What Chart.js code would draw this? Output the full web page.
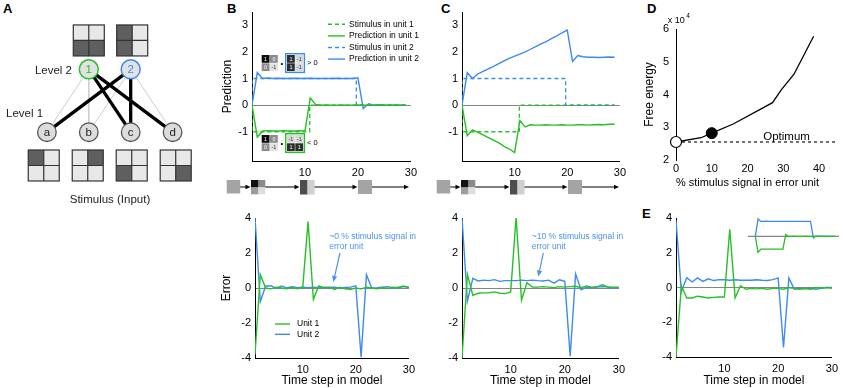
<!DOCTYPE html>
<html><head><meta charset="utf-8"><title>Predictive coding figure</title>
<script src="https://cdn.jsdelivr.net/npm/chart.js@4.4.1/dist/chart.umd.min.js"></script>
<style>
html,body{margin:0;padding:0;background:#fff}
body{position:relative;width:843px;height:388px;overflow:hidden;font-family:'Liberation Sans',Arial,Helvetica,sans-serif}
canvas{position:absolute}
.plabel{position:absolute;font-weight:bold;font-size:13px;line-height:13px;color:#000}
</style></head><body>
<div class="plabel" style="left:3px;top:2px">A</div>
<div class="plabel" style="left:227px;top:2px">B</div>
<div class="plabel" style="left:441px;top:2px">C</div>
<div class="plabel" style="left:647px;top:2px">D</div>
<div class="plabel" style="left:642px;top:207px">E</div>
<script>
// ---------------- DATA ----------------
// Panel A: network
const level1Nodes = ['a','b','c','d'];
const level1X = [1,2,3,4];
const level2Nodes = ['1','2'];
const level2X = [2,3];
const strongLinks = [['1','c'],['1','d'],['2','a'],['2','c']];
const weakLinks = [['1','a'],['1','b'],['2','b'],['2','d']];
const level2Patterns = [[0,0,1,1],[1,0,1,0]];          // TL,TR,BL,BR (1 = dark)
const inputPatterns = [[1,0,0,0],[0,1,0,0],[0,0,1,0],[0,0,0,1]];

// Panels B/C top: predictions
const topSteps = [0,1,2,3,4,5,6,7,8,9,10,11,12,13,14,15,16,17,18,19,20,21,22,23,24,25,26,27,28,29];
const predGreenB = [0,-1.2,-0.97,-0.96,-0.97,-0.97,-0.96,-0.97,-0.97,-0.96,-0.97,0.27,0.03,0.0,0.01,0.0,0.0,0.01,0.0,0.0,0.01,0.0,0.0,-0.01,0.0,0.0,0.0,0.01,0.0,0.0];
const predBlueB = [0,1.22,1.0,1.02,1.0,1.01,1.0,1.0,1.01,1.0,1.0,1.01,1.0,1.0,1.0,1.0,1.01,1.0,1.0,1.0,1.03,-0.13,0.05,0.0,0.02,0.0,0.0,-0.01,0.0,0.0];
const predGreenC = [0,-1.15,-0.93,-1.02,-1.12,-1.22,-1.32,-1.42,-1.55,-1.65,-1.78,-0.58,-0.82,-0.74,-0.75,-0.75,-0.74,-0.75,-0.75,-0.74,-0.75,-0.75,-0.74,-0.74,-0.75,-0.74,-0.73,-0.74,-0.72,-0.72];
const predBlueC = [0,1.22,1.0,1.17,1.27,1.36,1.46,1.56,1.66,1.76,1.84,1.92,2.0,2.1,2.2,2.3,2.39,2.5,2.6,2.72,2.82,1.64,1.86,1.82,1.8,1.8,1.79,1.8,1.81,1.8];
const stimGreenTimes = [0,0,10.9,10.9,29];
const stimGreenValues = [0,-1,-1,0,0];
const stimBlueTimes = [0,0,19.7,19.7,29];
const stimBlueValues = [0,1,1,0,0];
const predTicksX = [10,20,30];
const predTicksY = [-1,0,1,2,3];

// Panels B/C/E bottom: errors
const errSteps = [1,2,3,4,5,6,7,8,9,10,11,12,13,14,15,16,17,18,19,20,21,22,23,24,25,26,27,28,29,30];
const errGreenB = [-3.8,0.76,0.0,-0.05,0.05,0.0,-0.05,0.05,-0.05,0.05,3.8,-0.65,0.12,0.0,0.05,-0.08,0.05,-0.05,-0.08,0.0,-0.05,0.05,0.0,-0.05,0.03,-0.02,0.05,0.0,0.1,0.05];
const errBlueB = [4.0,-0.77,0.1,0.13,-0.02,0.12,0.0,0.08,0.02,0.05,0.02,0.04,0.02,0.05,0.03,0.05,0.0,0.03,0.05,0.12,-3.95,0.76,0.0,0.02,0.05,0.08,0.0,0.05,0.1,0.02];
const errGreenC = [-4.0,0.78,-0.42,-0.3,-0.28,-0.27,-0.22,-0.3,-0.32,-0.23,4.05,-0.7,0.3,0.05,0.05,0.08,0.05,0.02,0.08,0.05,0.08,0.1,0.02,0.12,0.05,0.08,0.18,0.05,0.05,0.05];
const errBlueC = [4.0,-0.75,0.55,0.4,0.45,0.42,0.48,0.38,0.42,0.42,0.42,0.45,0.42,0.45,0.42,0.4,0.45,0.28,0.47,0.38,-3.9,0.8,-0.1,0.05,0.0,0.05,0.08,0.05,0.0,0.02];
const errGreenE = [-4.0,0.1,-0.6,-0.6,-0.5,-0.55,-0.6,-0.57,-0.55,-0.55,3.35,-0.6,0.1,-0.1,-0.05,-0.08,-0.05,-0.1,-0.05,-0.05,-0.1,0.0,-0.05,-0.1,-0.05,-0.1,0.0,-0.05,0.0,-0.05];
const errBlueE = [3.85,-0.25,0.57,0.32,0.55,0.35,0.5,0.4,0.45,0.45,0.42,0.45,0.42,0.42,0.42,0.45,0.42,0.4,0.45,0.55,-3.45,0.55,-0.1,-0.05,-0.08,-0.05,-0.1,-0.05,0.0,0.0];
const errTicksX = [10,20,30];
const errTicksY = [-4,-2,0,2,4];

// Panel E inset: predictions
const insetGreenE = [0,-1.08,-0.86,-0.86,-0.85,-0.86,-0.86,-0.86,-0.85,-0.86,-0.86,0.12,0.0,0.0,0.01,0.0,0.0,0.0,0.01,0.0,0.0,0.0,0.0,0.01,0.0,0.0,0.0,0.0,0.0,0.0];
const insetBlueE = [0,1.18,1.0,1.0,1.02,1.0,1.0,1.01,1.0,1.0,1.0,1.0,1.01,1.0,1.0,1.0,1.0,1.01,1.0,1.0,1.0,-0.1,0.02,0.0,0.0,0.01,0.0,0.0,0.0,0.0];

// Panel D: free energy (x 10^4)
const feSignal = [0,7,10,16,27,29.5,33,38.5];
const feEnergy = [2.55,2.68,2.82,3.1,3.75,4.15,4.62,5.78];
const feOptimum = 2.55;
const feCurrentSignal = [10];
const feCurrentEnergy = [2.82];
const feTicksX = [0,10,20,30,40];
const feTicksY = [2,3,4,5,6];

// Panel B inset matrices
const stimMatrix = [1,0,0,-1];
const weightUnit2 = [1,-1,1,-1];
const weightUnit1 = [-1,-1,1,1];

// ---------------- STYLE / HELPERS ----------------
const FONT = "'Liberation Sans', Arial, Helvetica, sans-serif";
Chart.defaults.font.family = FONT;
Chart.defaults.color = '#000';
const GREEN = '#25c125', BLUE = '#3d8af2', ANNO = '#4b92f2', ZERO = '#858585';

function pts(xs, ys){ return xs.map((x,i)=>({x:x, y:ys[i]})); }
function lineDS(label, xs, ys, color, extra){
  return Object.assign({label:label, data:pts(xs,ys), borderColor:color, backgroundColor:color,
    borderWidth:1.4, pointRadius:0, fill:false, tension:0}, extra||{});
}
function makeCanvas(box){
  const c = document.createElement('canvas');
  c.width = box.width; c.height = box.height;
  c.style.left = box.left+'px'; c.style.top = box.top+'px';
  c.style.width = box.width+'px'; c.style.height = box.height+'px';
  document.body.appendChild(c);
  return c;
}
function xAxis(min, max, ticks, title, o){
  o = o || {};
  return {type:'linear', min:min, max:max,
    afterBuildTicks: s => { s.ticks = ticks.map(v=>({value:v})); },
    grid:{display:false, drawTicks:false},
    border:{display:o.noBorder ? false : true, color:'#000', width:1},
    ticks:{padding:o.tickPad!=null?o.tickPad:5, font:{size:11}, color:'#000', maxRotation:0, autoSkip:false},
    title: title ? {display:true, text:title, font:{size:o.titleSize||12}, color:'#000', padding:{top:0,bottom:o.titlePad||0}} : {display:false}
  };
}
function yAxis(min, max, ticks, title, o){
  o = o || {};
  return {type:'linear', min:min, max:max,
    afterBuildTicks: s => { s.ticks = ticks.map(v=>({value:v})); },
    grid: o.zero ? {display:true, drawTicks:false, lineWidth:1,
        color: c => (c.tick && c.tick.value === 0) ? ZERO : 'rgba(0,0,0,0)'} : {display:false, drawTicks:false},
    border:{display:true, color:'#000', width:1},
    ticks:{padding:o.tickPad!=null?o.tickPad:4, font:{size:11}, color:'#000', autoSkip:false},
    title: title ? {display:true, text:title, font:{size:12}, color:'#000', padding:{top:o.titlePad||0,bottom:0}} : {display:false}
  };
}
function plotChart(area, pad, scales, datasets, plugins){
  const box = {left:area.l-pad.l, top:area.t-pad.t, width:(area.r-area.l)+pad.l+pad.r, height:(area.b-area.t)+pad.t+pad.b};
  const c = makeCanvas(box);
  scales.x.afterFit = s => { s.height = pad.b; };
  scales.y.afterFit = s => { s.width = pad.l; };
  return new Chart(c, {type:'line', data:{datasets:datasets},
    options:{responsive:false, animation:false, devicePixelRatio:1, events:[],
      layout:{padding:{left:0, top:pad.t, right:pad.r, bottom:0}},
      scales:scales, plugins:{legend:{display:false}, tooltip:{enabled:false}}},
    plugins:plugins||[]});
}
function arrowLine(ctx, x0,y0,x1,y1,color,w,len,half){
  const a = Math.atan2(y1-y0, x1-x0);
  ctx.strokeStyle = color; ctx.lineWidth = w; ctx.setLineDash([]);
  ctx.beginPath(); ctx.moveTo(x0,y0); ctx.lineTo(x1-len*0.8*Math.cos(a), y1-len*0.8*Math.sin(a)); ctx.stroke();
  ctx.fillStyle = color; ctx.beginPath(); ctx.moveTo(x1,y1);
  ctx.lineTo(x1-len*Math.cos(a)+half*Math.sin(a), y1-len*Math.sin(a)-half*Math.cos(a));
  ctx.lineTo(x1-len*Math.cos(a)-half*Math.sin(a), y1-len*Math.sin(a)+half*Math.cos(a));
  ctx.closePath(); ctx.fill();
}
function txt(ctx, s, x, y, size, color, align, extra){
  ctx.font = (extra||'') + size + 'px ' + FONT;
  ctx.fillStyle = color; ctx.textAlign = align||'left'; ctx.textBaseline = 'middle';
  ctx.fillText(s, x, y);
}
function grid2(ctx, x, y, s, cols, border){
  const h = s/2;
  if (cols.every(c => c === cols[0])) { ctx.fillStyle = cols[0]; ctx.fillRect(x, y, s, s); }
  else {
    for (let i=0;i<4;i++){ ctx.fillStyle = cols[i];
      const cx = x+(i%2)*h, cy = y+Math.floor(i/2)*h;
      ctx.fillRect(cx, cy, h+((i%2)===0?0.6:0), h+(i<2?0.6:0)); }
  }
  if (border){ ctx.strokeStyle = border; ctx.lineWidth = 1.2; ctx.strokeRect(x, y, s, s);
    ctx.beginPath(); ctx.moveTo(x+h,y); ctx.lineTo(x+h,y+s); ctx.moveTo(x,y+h); ctx.lineTo(x+s,y+h); ctx.stroke(); }
}
// stimulus sequence strip under the prediction plots (canvas-relative pixels)
function drawStrip(ctx){
  const y0 = 180, g = '#a4a4a4';
  grid2(ctx, 11.7, y0, 13.5, [g,g,g,g]);
  grid2(ctx, 36, y0, 14.3, ['#111','#8a8a8a','#9c9c9c','#dedede']);
  grid2(ctx, 85, y0, 14.5, ['#4d4d4d','#cfcfcf','#4d4d4d','#cfcfcf']);
  grid2(ctx, 143, y0, 14, [g,g,g,g]);
  const ym = y0 + 7;
  [[25.2,35.5],[50.3,84.5],[99.5,142.5],[157,194]].forEach(a => arrowLine(ctx, a[0], ym, a[1], ym, '#000', 1, 5, 2.3));
}
function matrixCell(v){
  if (v === 1) return ['#2e2e2e','#fff'];
  if (v === 0) return ['#8c8c8c','#fff'];
  return ['#d9d9d9','#333'];
}
function drawMatrix(ctx, x, y, vals, border, firstBlack){
  const c = 8.3;
  for (let i=0;i<4;i++){
    let cc = matrixCell(vals[i]);
    if (firstBlack && i===0) cc = ['#0c0c0c','#fff'];
    if (firstBlack && i===3) cc = ['#e2e2e2','#333'];
    const cx = x + (i%2)*c, cy = y + Math.floor(i/2)*c;
    ctx.fillStyle = cc[0]; ctx.fillRect(cx, cy, c-0.5, c-0.5);
    txt(ctx, String(vals[i]), cx+c/2-0.2, cy+c/2, 5.5, cc[1], 'center');
  }
  if (border){ ctx.strokeStyle = border; ctx.lineWidth = 1.4; ctx.strokeRect(x-1.3, y-1.3, 2*c+2.1, 2*c+2.1); }
}

// ---------------- PANEL A ----------------
(function(){
  const c = makeCanvas({left:0, top:0, width:215, height:215});
  const nodeX = {}; const nodeY = {};
  level1Nodes.forEach((n,i)=>{ nodeX[n]=level1X[i]; nodeY[n]=1; });
  level2Nodes.forEach((n,i)=>{ nodeX[n]=level2X[i]; nodeY[n]=2; });
  const ds = [];
  weakLinks.forEach(l => ds.push({data:[{x:nodeX[l[0]],y:nodeY[l[0]]},{x:nodeX[l[1]],y:nodeY[l[1]]}], showLine:true, borderColor:'#cdcdcd', borderWidth:1, pointRadius:0, order:3}));
  strongLinks.forEach(l => ds.push({data:[{x:nodeX[l[0]],y:nodeY[l[0]]},{x:nodeX[l[1]],y:nodeY[l[1]]}], showLine:true, borderColor:'#000', borderWidth:3.3, pointRadius:0, order:2}));
  ds.push({data:level1X.map(x=>({x:x,y:1})), pointRadius:9.3, backgroundColor:'#dcdcdc', borderColor:'#555', borderWidth:1.3, order:1});
  ds.push({data:[{x:level2X[0],y:2}], pointRadius:9.5, backgroundColor:'#e2e2e2', borderColor:GREEN, borderWidth:1.5, order:1});
  ds.push({data:[{x:level2X[1],y:2}], pointRadius:9.5, backgroundColor:'#e2e2e2', borderColor:BLUE, borderWidth:1.5, order:1});
  const deco = {id:'aDeco', afterDraw(ch){
    const ctx = ch.ctx, xs = ch.scales.x, ys = ch.scales.y; ctx.save();
    level1Nodes.forEach((n,i)=> txt(ctx, n, xs.getPixelForValue(level1X[i]), ys.getPixelForValue(1)+0.5, 11.5, '#222', 'center'));
    txt(ctx, level2Nodes[0], xs.getPixelForValue(level2X[0]), ys.getPixelForValue(2)+0.5, 11.5, GREEN, 'center');
    txt(ctx, level2Nodes[1], xs.getPixelForValue(level2X[1]), ys.getPixelForValue(2)+0.5, 11.5, BLUE, 'center');
    const L = '#e8e8e8', D = '#5f5f5f', S = 31;
    level2Patterns.forEach((p,i)=>{ const cx = xs.getPixelForValue(level2X[i]) + (i===1?1.5:0); const cy = ys.getPixelForValue(2.46);
      grid2(ctx, cx-S/2, cy-S/2, S, p.map(v=>v?D:L), '#333'); });
    inputPatterns.forEach((p,i)=>{ const px = xs.getPixelForValue(level1X[i]); const cx = px + (px-110)*0.05; const cy = ys.getPixelForValue(0.47);
      grid2(ctx, cx-S/2, cy-S/2, S, p.map(v=>v?D:L), '#333'); });
    txt(ctx, 'Level 2', 72, 71, 11.5, '#222', 'right');
    txt(ctx, 'Level 1', 6, 114, 11.5, '#222', 'left');
    txt(ctx, 'Stimulus (Input)', 110, 200, 11.5, '#222', 'center');
    ctx.restore();
  }};
  new Chart(c, {type:'scatter', data:{datasets:ds},
    options:{responsive:false, animation:false, devicePixelRatio:1, events:[], layout:{padding:0},
      scales:{x:{type:'linear', display:false, min:0.1429, max:4.75}, y:{type:'linear', display:false, min:-0.1429, max:2.9286}},
      plugins:{legend:{display:false}, tooltip:{enabled:false}}},
    plugins:[deco]});
})();

// ---------------- PANEL B / C TOP ----------------
function predDatasets(green, blue){
  return [
    lineDS('Stimulus in unit 1', stimGreenTimes, stimGreenValues, GREEN, {borderDash:[4,3], borderWidth:1.3}),
    lineDS('Prediction in unit 1', topSteps, green, GREEN),
    lineDS('Stimulus in unit 2', stimBlueTimes, stimBlueValues, BLUE, {borderDash:[4,3], borderWidth:1.3}),
    lineDS('Prediction in unit 2', topSteps, blue, BLUE)
  ];
}
const bTopDeco = {id:'bTopDeco', afterDraw(ch){
  const ctx = ch.ctx; ctx.save();
  ch.data.datasets.forEach((d,i)=>{
    const y = 24.3 + i*11.6;
    ctx.strokeStyle = d.borderColor; ctx.lineWidth = 1.4; ctx.setLineDash(d.borderDash||[]);
    ctx.beginPath(); ctx.moveTo(113, y); ctx.lineTo(130, y); ctx.stroke(); ctx.setLineDash([]);
    txt(ctx, d.label, 134, y, 8.5, '#000', 'left');
  });
  drawMatrix(ctx, 46.7, 55, stimMatrix, null, true);
  txt(ctx, '\u2022', 67, 63.5, 8, '#000', 'center');
  drawMatrix(ctx, 72, 55, weightUnit2, BLUE, false);
  txt(ctx, '> 0', 92, 63.3, 7.5, '#000', 'left');
  drawMatrix(ctx, 46.7, 135, stimMatrix, null, true);
  txt(ctx, '\u2022', 67, 143.5, 8, '#000', 'center');
  drawMatrix(ctx, 72, 135, weightUnit1, GREEN, false);
  txt(ctx, '< 0', 92, 143.3, 7.5, '#000', 'left');
  drawStrip(ctx);
  ctx.restore();
}};
const stripDeco = {id:'stripDeco', afterDraw(ch){ const ctx = ch.ctx; ctx.save(); drawStrip(ctx); ctx.restore(); }};

plotChart({l:252,t:12,r:411,b:161}, {l:37,t:12,r:11,b:39},
  {x:xAxis(0,30,predTicksX,null,{tickPad:5}), y:yAxis(-2.1,3.5,predTicksY,'Prediction',{zero:true,titlePad:5.3})},
  predDatasets(predGreenB, predBlueB), [bTopDeco]);
plotChart({l:462,t:12,r:620,b:161}, {l:37,t:12,r:11,b:39},
  {x:xAxis(0,30,predTicksX,null,{tickPad:5}), y:yAxis(-2.1,3.5,predTicksY,null,{zero:true})},
  predDatasets(predGreenC, predBlueC), [stripDeco]);

// ---------------- ERROR PANELS ----------------
function errDatasets(green, blue){
  return [lineDS('Unit 1', errSteps, green, GREEN), lineDS('Unit 2', errSteps, blue, BLUE)];
}
const bErrDeco = {id:'bErrDeco', afterDraw(ch){
  const ctx = ch.ctx; ctx.save();
  ch.data.datasets.forEach((d,i)=>{
    const y = 119 + i*10.3;
    ctx.strokeStyle = d.borderColor; ctx.lineWidth = 1.4; ctx.beginPath(); ctx.moveTo(60,y); ctx.lineTo(75,y); ctx.stroke();
    txt(ctx, d.label, 82, y, 8.5, '#000', 'left');
  });
  txt(ctx, '~0 % stimulus signal in', 114.3, 31.7, 8.5, ANNO, 'left');
  txt(ctx, 'error unit', 114.3, 41.5, 8.5, ANNO, 'left');
  arrowLine(ctx, 125, 48, 118.3, 77, ANNO, 1.2, 6, 2.6);
  ctx.restore();
}};
const cErrDeco = {id:'cErrDeco', afterDraw(ch){
  const ctx = ch.ctx; ctx.save();
  txt(ctx, '~10 % stimulus signal in', 101.7, 31.7, 8.5, ANNO, 'left');
  txt(ctx, 'error unit', 101.7, 41.5, 8.5, ANNO, 'left');
  arrowLine(ctx, 113.3, 48, 108.3, 71.5, ANNO, 1.2, 6, 2.6);
  ctx.restore();
}};
plotChart({l:255,t:218,r:413,b:358}, {l:40,t:13,r:7,b:30},
  {x:xAxis(1,30,errTicksX,'Time step in model'), y:yAxis(-4,4,errTicksY,'Error',{zero:true,titlePad:4.8})},
  errDatasets(errGreenB, errBlueB), [bErrDeco]);
plotChart({l:462,t:218,r:622,b:358}, {l:32,t:13,r:8,b:30},
  {x:xAxis(1,30,errTicksX,'Time step in model'), y:yAxis(-4,4,errTicksY,null,{zero:true})},
  errDatasets(errGreenC, errBlueC), [cErrDeco]);
plotChart({l:676,t:218,r:836,b:357}, {l:21,t:13,r:7,b:31},
  {x:xAxis(1,30,errTicksX,'Time step in model'), y:yAxis(-4,4,errTicksY,null,{zero:true})},
  errDatasets(errGreenE, errBlueE), []);

// ---------------- PANEL E INSET ----------------
(function(){
  const c = makeCanvas({left:748, top:217, width:91, height:38});
  const zeroLine = {id:'insetZero', beforeDatasetsDraw(ch){
    const ctx = ch.ctx, y = ch.scales.y.getPixelForValue(0); ctx.save();
    ctx.strokeStyle = ZERO; ctx.lineWidth = 1.2; ctx.beginPath(); ctx.moveTo(ch.chartArea.left, y); ctx.lineTo(ch.chartArea.right, y); ctx.stroke(); ctx.restore();
  }};
  new Chart(c, {type:'line', data:{datasets:[
      lineDS('Prediction in unit 1', topSteps, insetGreenE, GREEN, {borderWidth:1.3}),
      lineDS('Prediction in unit 2', topSteps, insetBlueE, BLUE, {borderWidth:1.3})]},
    options:{responsive:false, animation:false, devicePixelRatio:1, events:[], layout:{padding:0},
      scales:{x:{type:'linear', display:false, min:-2.65, max:30.3}, y:{type:'linear', display:false, min:-1.25, max:1.3}},
      plugins:{legend:{display:false}, tooltip:{enabled:false}}},
    plugins:[zeroLine]});
})();

// ---------------- PANEL D ----------------
const dDeco = {id:'dDeco', afterDraw(ch){
  const ctx = ch.ctx, xs = ch.scales.x, ys = ch.scales.y; ctx.save();
  txt(ctx, 'x 10', 27.7, 10.5, 9, '#000', 'left');
  txt(ctx, '4', 46.2, 5.8, 6.5, '#000', 'left');
  txt(ctx, 'Optimum', xs.getPixelForValue(24.4), ys.getPixelForValue(2.72), 11.5, '#000', 'left');
  ctx.restore();
}};
plotChart({l:676,t:29,r:819,b:160}, {l:36,t:19,r:24,b:35},
  {x:xAxis(0,40,feTicksX,'% stimulus signal in error unit',{noBorder:true,tickPad:2,titlePad:5.3,titleSize:11.5}),
   y:yAxis(2,6,feTicksY,'Free energy',{tickPad:7,titlePad:2.8})},
  [
    lineDS('Free energy', feSignal, feEnergy, '#000', {borderWidth:1.3, order:2}),
    lineDS('Optimum', [0,45], [feOptimum,feOptimum], '#000', {borderWidth:1.1, borderDash:[3,3], clip:false, order:3}),
    {label:'Optimum point', data:pts([0],[feOptimum]), pointRadius:5.5, pointBackgroundColor:'#fff', pointBorderColor:'#000', pointBorderWidth:1.2, showLine:false, clip:false, order:0},
    {label:'Current', data:pts(feCurrentSignal, feCurrentEnergy), pointRadius:5.5, pointBackgroundColor:'#000', pointBorderColor:'#000', pointBorderWidth:1, showLine:false, clip:false, order:0}
  ], [dDeco]);
</script></body></html>
